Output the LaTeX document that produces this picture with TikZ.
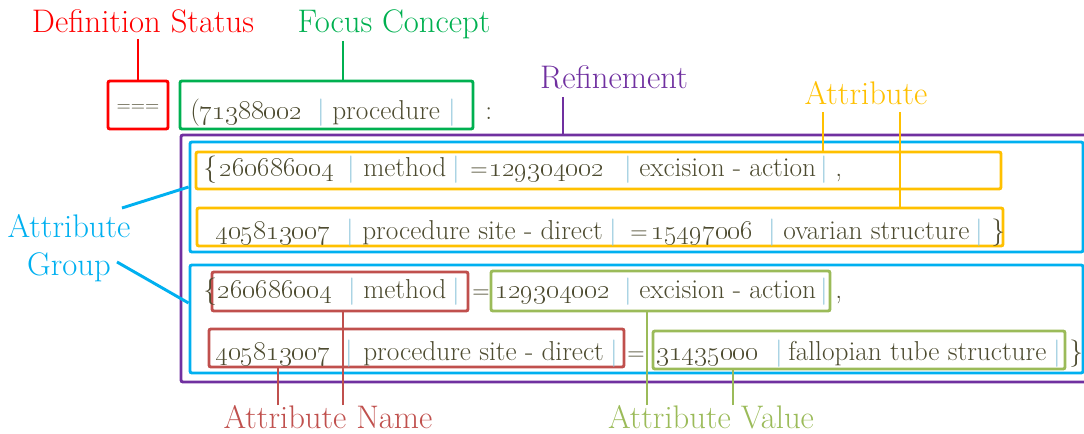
\documentclass[tikz,border=0pt]{standalone}
\usetikzlibrary{fit}
\definecolor{defred}{HTML}{FF0000}
\definecolor{focusgreen}{HTML}{00B050}
\definecolor{refpurple}{HTML}{7030A0}
\definecolor{attryellow}{HTML}{FFC000}
\definecolor{groupcyan}{HTML}{00B0F0}
\definecolor{namered}{HTML}{C0504D}
\definecolor{valuegreen}{HTML}{9BBB59}
\definecolor{textolive}{HTML}{4D4B30}
\definecolor{barblue}{HTML}{8CC4DA}
% concept ids in old style figures
\newcommand\sctid[1]{{\fontsize{20}{22}\selectfont\oldstylenums{#1}}}
\tikzset{
  box/.style={line width=2.2pt, rounded corners=1.5pt, inner sep=0pt},
  conn/.style={line width=2.2pt},
  tag/.style={font=\fontsize{24.5}{29}\selectfont, inner sep=4pt},
  seg/.style={font=\fontsize{20.5}{24}\selectfont, text=textolive, anchor=base west, inner sep=0pt},
  bar/.style={text=barblue, anchor=base},
  eq/.style={font=\fontsize{18}{22}\selectfont},
}
\begin{document}
\begin{tikzpicture}[x=0.75pt,y=-0.75pt]
  \useasboundingbox (0,0) rectangle (1084,434);
  \clip (0,0) rectangle (1084,434);
  % labels
  \node[tag, defred, anchor=base] (deflabel) at (143,33) {Definition Status};
  \node[tag, focusgreen, anchor=base] (focuslabel) at (394,33) {Focus Concept};
  \node[tag, refpurple, anchor=base] (reflabel) at (614,89) {Refinement};
  \node[tag, attryellow, anchor=base] (attrlabel) at (866,105) {Attribute};
  \node[tag, groupcyan, align=center] (grplabel) at (69,248) {Attribute\\[0pt]Group};
  \node[tag, namered, anchor=base] (namelabel) at (328,428) {Attribute Name};
  \node[tag, valuegreen, anchor=base] (valuelabel) at (711,428) {Attribute Value};
  % boxes
  \node[box, draw=refpurple, fit={(181,135) (1100,382)}] (refbox) {};
  \node[box, draw=groupcyan, fit={(190,142) (1083,252)}] (grpbox1) {};
  \node[box, draw=groupcyan, fit={(190,265) (1083,373)}] (grpbox2) {};
  \node[box, draw=attryellow, fit={(196,152) (1001,189)}] (attrbox1) {};
  \node[box, draw=attryellow, fit={(197,208) (1003,246)}] (attrbox2) {};
  \node[box, draw=namered, fit={(212,272) (468,311)}] (namebox1) {};
  \node[box, draw=namered, fit={(209,329) (624,367)}] (namebox2) {};
  \node[box, draw=valuegreen, fit={(491,271) (830,311)}] (valuebox1) {};
  \node[box, draw=valuegreen, fit={(653,331) (1065,369)}] (valuebox2) {};
  \node[box, draw=defred, fit={(108,81) (168,129)}] (defbox) {};
  \node[box, draw=focusgreen, fit={(180,81) (473,129)}] (focusbox) {};
  \node[font=\fontsize{14}{16}\selectfont, text=textolive] (defsym)
    at ([yshift=-2pt]defbox.center) {===};
  % expression text
  \begin{scope}[every node/.style={seg}]
    \path
      (190,120) node (fc1) {(\sctid{71388002}}
      (321,120) node[bar] (fc2) {|}
      (332,120) node (fc3) {procedure}
      (452,120) node[bar] (fc4) {|}
      (485,120) node (fc5) {:};
    \path
      (203,177) node (ra1) {\{}
      (219,177) node (ra2) {\sctid{260686004}}
      (351,177) node[bar] (ra3) {|}
      (363,177) node (ra4) {method}
      (456,177) node[bar] (ra5) {|}
      (470,177) node[eq] (ra6) {=}
      (489,177) node (ra7) {\sctid{129304002}}
      (628,177) node[bar] (ra8) {|}
      (639,177) node (ra9) {excision - action}
      (824,177) node[bar] (ra10) {|}
      (835,177) node (ra11) {,};
    \path
      (215,240) node (rb1) {\sctid{405813007}}
      (350,240) node[bar] (rb2) {|}
      (362,240) node (rb3) {procedure site - direct}
      (613,240) node[bar] (rb4) {|}
      (630,240) node[eq] (rb5) {=}
      (651,240) node (rb6) {\sctid{15497006}}
      (772,240) node[bar] (rb7) {|}
      (783,240) node (rb8) {ovarian structure}
      (979,240) node[bar] (rb9) {|}
      (991,240) node (rb10) {\}};
    \path
      (203,299) node (rc1) {\{}
      (217,299) node (rc2) {\sctid{260686004}}
      (352,299) node[bar] (rc3) {|}
      (363,299) node (rc4) {method}
      (456,299) node[bar] (rc5) {|}
      (472,299) node[eq] (rc6) {=}
      (495,299) node (rc7) {\sctid{129304002}}
      (628,299) node[bar] (rc8) {|}
      (639,299) node (rc9) {excision - action}
      (824,299) node[bar] (rc10) {|}
      (835,299) node (rc11) {,};
    \path
      (215,360) node (rd1) {\sctid{405813007}}
      (349,360) node[bar] (rd2) {|}
      (363,360) node (rd3) {procedure site - direct}
      (614,360) node[bar] (rd4) {|}
      (627,360) node[eq] (rd5) {=}
      (656,360) node (rd6) {\sctid{31435000}}
      (779,360) node[bar] (rd7) {|}
      (788,360) node (rd8) {fallopian tube structure}
      (1057,360) node[bar] (rd9) {|}
      (1069,360) node (rd10) {\}};
  \end{scope}
  % pointers from labels to boxes
  \coordinate (focustop) at (343,41);
  \coordinate (reftop) at (563,97);
  \coordinate (attrtopA) at (823,112);
  \coordinate (attrtopB) at (900,112);
  \coordinate (grpA) at (122,208);
  \coordinate (grpB) at (117,262);
  \coordinate (nameA) at (278,405);
  \coordinate (nameB) at (343,405);
  \coordinate (valueA) at (647,405);
  \coordinate (valueB) at (733,405);
  \draw[conn, defred] (deflabel.south -| defbox.north) -- (defbox.north);
  \draw[conn, focusgreen] (focustop) -- (focustop |- focusbox.north);
  \draw[conn, refpurple] (reftop) -- (reftop |- refbox.north);
  \draw[conn, attryellow] (attrtopA) -- (attrtopA |- attrbox1.north);
  \draw[conn, attryellow] (attrtopB) -- (attrtopB |- attrbox2.north);
  \draw[conn, groupcyan] (grpA) -- ([yshift=7.5pt]grpbox1.west);
  \draw[conn, groupcyan] (grpB) -- ([yshift=12pt]grpbox2.west);
  \draw[conn, namered] (nameA) -- (nameA |- namebox2.south);
  \draw[conn, namered] (nameB) -- (nameB |- namebox1.south);
  \draw[conn, valuegreen] (valueA) -- (valueA |- valuebox1.south);
  \draw[conn, valuegreen] (valueB) -- (valueB |- valuebox2.south);
\end{tikzpicture}
\end{document}
